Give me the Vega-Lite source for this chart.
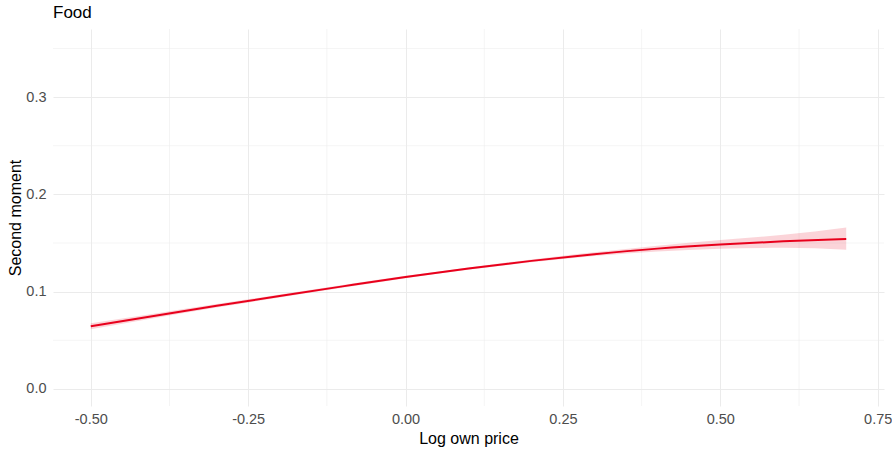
{
  "$schema": "https://vega.github.io/schema/vega-lite/v6.json",
  "width": 831,
  "height": 377,
  "autosize": {"type": "none"},
  "padding": {"left": 53, "top": 29, "right": 8, "bottom": 46},
  "background": "white",
  "title": {"text": "Food", "anchor": "start", "frame": "group", "fontSize": 17, "font": "Liberation Sans", "fontWeight": "normal", "color": "black", "baseline": "alphabetic", "offset": -6},
  "config": {
    "view": {"stroke": null},
    "axis": {"labelFont": "Liberation Sans", "titleFont": "Liberation Sans", "labelFontSize": 14.5, "labelColor": "#4D4D4D", "titleFontSize": 16, "titleColor": "black", "titleFontWeight": "normal", "domain": false, "ticks": false, "tickSize": 0, "gridColor": "#EBEBEB", "gridWidth": 1.07}
  },
  "datasets": {
    "curve": [
      {"x": -0.5, "y": 0.0644, "lo": 0.0614, "hi": 0.0674},
      {"x": -0.4, "y": 0.0750, "lo": 0.0727, "hi": 0.0773},
      {"x": -0.3, "y": 0.0854, "lo": 0.0836, "hi": 0.0872},
      {"x": -0.2, "y": 0.0955, "lo": 0.0940, "hi": 0.0970},
      {"x": -0.1, "y": 0.1054, "lo": 0.1041, "hi": 0.1067},
      {"x": 0.0, "y": 0.1150, "lo": 0.1138, "hi": 0.1162},
      {"x": 0.1, "y": 0.1237, "lo": 0.1225, "hi": 0.1249},
      {"x": 0.2, "y": 0.1316, "lo": 0.1301, "hi": 0.1331},
      {"x": 0.3, "y": 0.1385, "lo": 0.1365, "hi": 0.1405},
      {"x": 0.4, "y": 0.1442, "lo": 0.1412, "hi": 0.1472},
      {"x": 0.5, "y": 0.1485, "lo": 0.1440, "hi": 0.1530},
      {"x": 0.6, "y": 0.1517, "lo": 0.1450, "hi": 0.1584},
      {"x": 0.7, "y": 0.1542, "lo": 0.1430, "hi": 0.1660}
    ],
    "xminor": [{"x": -0.375}, {"x": -0.125}, {"x": 0.125}, {"x": 0.375}, {"x": 0.625}],
    "yminor": [{"lo": 0.05}, {"lo": 0.15}, {"lo": 0.25}, {"lo": 0.35}]
  },
  "layer": [
    {
      "data": {"name": "xminor"},
      "mark": {"type": "rule", "color": "#EBEBEB", "strokeWidth": 0.55},
      "encoding": {"x": {"field": "x", "type": "quantitative", "title": "Log own price",
        "scale": {"domain": [-0.56, 0.76], "nice": false, "zero": false},
        "axis": {"values": [-0.5, -0.25, 0, 0.25, 0.5, 0.75], "labelExpr": "replace(format(datum.value, '.2f'), '\u2212', '-')", "labelPadding": 6, "titlePadding": 5}}}
    },
    {
      "data": {"name": "yminor"},
      "mark": {"type": "rule", "color": "#EBEBEB", "strokeWidth": 0.55},
      "encoding": {"y": {"field": "lo", "type": "quantitative", "title": "Second moment",
        "scale": {"domain": [-0.0176, 0.37], "nice": false, "zero": false},
        "axis": {"values": [0, 0.1, 0.2, 0.3], "labelExpr": "format(datum.value, '.1f')", "labelPadding": 7, "titlePadding": 2}}}
    },
    {
      "data": {"name": "curve"},
      "mark": {"type": "area", "color": "#E8001C", "opacity": 0.17, "interpolate": "monotone"},
      "encoding": {
        "x": {"field": "x", "type": "quantitative", "title": "Log own price"},
        "y": {"field": "lo", "type": "quantitative", "title": "Second moment"},
        "y2": {"field": "hi"}
      }
    },
    {
      "data": {"name": "curve"},
      "mark": {"type": "line", "color": "#E8001C", "strokeWidth": 2, "interpolate": "monotone"},
      "encoding": {
        "x": {"field": "x", "type": "quantitative", "title": "Log own price"},
        "y": {"field": "y", "type": "quantitative", "title": "Second moment"}
      }
    }
  ]
}
